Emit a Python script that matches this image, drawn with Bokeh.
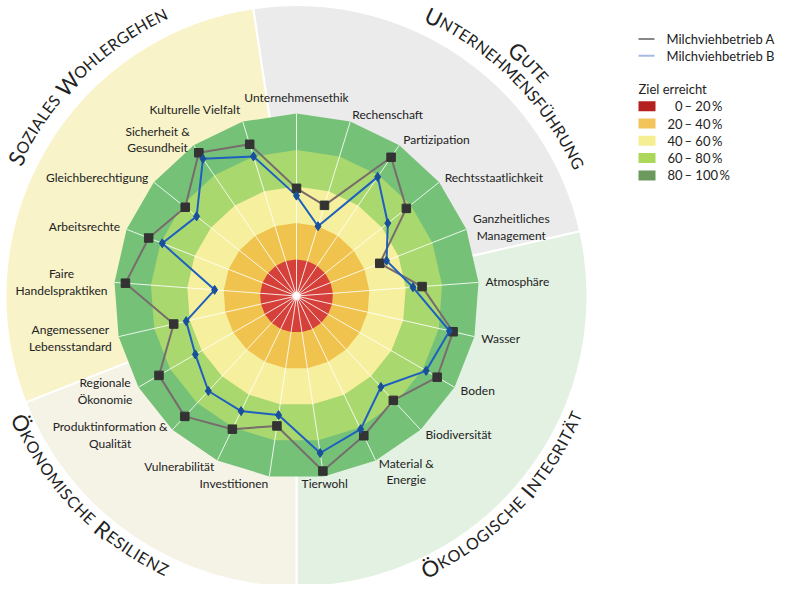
import numpy as np
from bokeh.plotting import figure
from bokeh.models import Range1d, ColumnDataSource
from bokeh.core.properties import value
from bokeh.embed import file_html
from bokeh.resources import INLINE

# ---------------- data ----------------
categories = ["Unternehmensethik", "Rechenschaft", "Partizipation", "Rechtsstaatlichkeit",
              "Ganzheitliches\nManagement", "Atmosphäre", "Wasser", "Boden", "Biodiversität",
              "Material &\nEnergie", "Tierwohl", "Investitionen", "Vulnerabilität",
              "Produktinformation &\nQualität", "Regionale\nÖkonomie", "Angemessener\nLebensstandard",
              "Faire\nHandelspraktiken", "Arbeitsrechte", "Gleichberechtigung",
              "Sicherheit &\nGesundheit", "Kulturelle Vielfalt"]
farm_a = [59, 52, 92, 77, 49, 69, 88, 89, 78, 85, 97, 72, 81, 90, 87, 69, 94, 87, 78, 95, 87]
farm_b = [55, 40, 79, 64, 53, 64, 86, 82, 68, 81, 87, 66, 70, 71, 64, 62, 45, 79, 70, 91, 80]
series_names = ["Milchviehbetrieb A", "Milchviehbetrieb B"]
band_lower = [0, 20, 40, 60, 80]
band_upper = [20, 40, 60, 80, 100]
legend_title = "Ziel erreicht"
dimension_names = ["Gute Unternehmensführung", "Ökologische Integrität",
                   "Ökonomische Resilienz", "Soziales Wohlergehen"]
dimension_first = [0, 5, 11, 15]
dimension_last = [4, 10, 14, 20]

# ---------------- style ----------------
FONT = "Lato"
TXT = "#222222"
CX, CY = 296.0, 304.5
R100 = 182.5
R_BG = 291.0
sector_colors = ["#ebebeb", "#e3f1e2", "#f5f2e6", "#f8f3c9"]
band_colors = ["#d5403a", "#f0c34e", "#f6ef9e", "#a8d86e", "#75c178"]
legend_colors = ["#b5211e", "#f2c45a", "#f6ee93", "#acd85a", "#6b9a5c"]
line_a, mark_a = "#786c6c", "#333333"
line_b, mark_b = "#1f5fbf", "#1a4f9a"

n = len(categories)
step = 2 * np.pi / n
theta = np.pi / 2 - np.arange(n) * step

p = figure(width=777, height=584, x_range=Range1d(0, 777), y_range=Range1d(16, 600),
           output_backend="svg", toolbar_location=None, x_axis_type=None, y_axis_type=None,
           min_border=0, outline_line_color=None, background_fill_color="white")
p.grid.visible = False

# sector backgrounds
for k in range(len(dimension_names)):
    hi = theta[dimension_first[k]] + step / 2
    lo = theta[dimension_last[k]] - step / 2
    p.wedge(x=CX, y=CY, radius=R_BG, start_angle=lo, end_angle=hi, direction="anticlock",
            fill_color=sector_colors[k], line_color="white", line_width=2)

# achievement bands (polygons through spoke ends), outermost first
for k in reversed(range(len(band_upper))):
    r = band_upper[k] / 100 * R100
    p.patch(CX + r * np.cos(theta), CY + r * np.sin(theta), fill_color=band_colors[k],
            line_color=None)

# spokes
p.segment(x0=[CX] * n, y0=[CY] * n, x1=list(CX + R100 * np.cos(theta)),
          y1=list(CY + R100 * np.sin(theta)), line_color="white", line_width=1, line_alpha=0.85)
p.scatter([CX], [CY], size=6, fill_color="white", line_color="white", line_alpha=0.6, line_width=3)

# series
def polar(vals):
    r = np.array(vals) / 100 * R100
    return CX + r * np.cos(theta), CY + r * np.sin(theta)

xa, ya = polar(farm_a)
xb, yb = polar(farm_b)
p.line(list(xa) + [xa[0]], list(ya) + [ya[0]], line_color=line_a, line_width=2)
p.line(list(xb) + [xb[0]], list(yb) + [yb[0]], line_color=line_b, line_width=2)
p.scatter(xa, ya, marker="square", size=8.5, fill_color=mark_a, line_color=mark_a)
p.scatter(xb, yb, marker="diamond", size=9, fill_color=mark_b, line_color=mark_b)

# category labels
for i, lab in enumerate(categories):
    c, s = np.cos(theta[i]), np.sin(theta[i])
    px = CX + (R100 + 7) * c
    py = CY + (R100 + 7) * s
    if s > 0.99:
        py += 9
    elif s > 0.9 and c < 0:
        py += 5
    elif s < -0.89 and c > 0.3:
        py -= 5
    if -0.1 < c < 0.2:
        anc = "center"
    elif c >= 0.2:
        anc = "center_left"
    else:
        anc = "center_right"
    p.text(x=[px], y=[py], text=[lab], anchor=value(anc), text_align="center",
           text_baseline="middle", text_font=value(FONT), text_font_size="12px",
           text_color=TXT, text_line_height=1.1)

# dimension titles along arcs (small caps)
W = dict(A=.68, B=.64, C=.67, D=.74, E=.56, F=.54, G=.72, H=.76, I=.28, J=.4, K=.67, L=.5,
         M=.91, N=.76, O=.79, P=.6, Q=.79, R=.63, S=.53, T=.58, U=.73, V=.68, W=1.0, X=.66,
         Y=.63, Z=.62)
W.update({"Ü": .73, "Ä": .68, "Ö": .79, " ": .3})
BIG, SMALL, TRACK = 22, 16, 0.6

def arc_text(text, r, center_deg, outward):
    items = []
    for ch in text:
        up = ch.upper()
        sz = BIG if ch.isupper() else SMALL
        items.append((up, sz, W.get(up, .65) * sz + TRACK))
    L = sum(it[2] for it in items) - TRACK
    c0 = np.radians(center_deg)
    d = dict(x=[], y=[], t=[], a=[], fs=[])
    pos = 0.0
    for up, sz, w in items:
        mid = pos + (w - TRACK) / 2
        if outward:
            th = c0 + L / (2 * r) - mid / r
            ang = th - np.pi / 2
        else:
            th = c0 - L / (2 * r) + mid / r
            ang = th + np.pi / 2
        pos += w
        if up == " ":
            continue
        d["x"].append(CX + r * np.cos(th)); d["y"].append(CY + r * np.sin(th))
        d["t"].append(up); d["a"].append(ang); d["fs"].append(f"{sz}px")
    src = ColumnDataSource(d)
    p.text(x="x", y="y", text="t", angle="a", text_font_size="fs", source=src,
           text_align="center", text_baseline="alphabetic", text_font=value(FONT),
           text_color=TXT)

gute, unternehmen = dimension_names[0].split(" ")
arc_text(gute, 330, 45.1, True)
arc_text(unternehmen, 311, 44.8, True)
arc_text(dimension_names[3], 312, 134.8, True)
arc_text(dimension_names[2], 303, -136.0, False)
arc_text(dimension_names[1], 303, -44.0, False)

# legend
def Y(py):
    return 600 - py

LX = 638
for k, (name, col) in enumerate(zip(series_names, ["#888888", "#a6b8ea"])):
    yy = Y(38.5 + 16.7 * k)
    p.segment(x0=[LX], y0=[yy], x1=[LX + 16], y1=[yy], line_color=col, line_width=2)
    p.text(x=[LX + 28], y=[yy], text=[name], text_baseline="middle", text_align="left",
           text_font=value(FONT), text_font_size="13px", text_color=TXT)
p.text(x=[LX], y=[Y(88)], text=[legend_title], text_baseline="middle", text_align="left",
       text_font=value(FONT), text_font_size="13px", text_color=TXT)
for k in range(len(band_upper)):
    yy = Y(105.7 + 17.3 * k)
    p.quad(left=[LX], right=[LX + 17], bottom=[yy - 5], top=[yy + 5],
           fill_color=legend_colors[k], line_color=None)
    p.text(x=[LX + 44], y=[yy], text=[str(band_lower[k])], text_baseline="middle",
           text_align="right", text_font=value(FONT), text_font_size="13px", text_color=TXT)
    p.text(x=[LX + 46], y=[yy], text=[f"– {band_upper[k]}\u2009%"], text_baseline="middle",
           text_align="left", text_font=value(FONT), text_font_size="13px", text_color=TXT)

open("out.html", "w").write(file_html(p, INLINE))
